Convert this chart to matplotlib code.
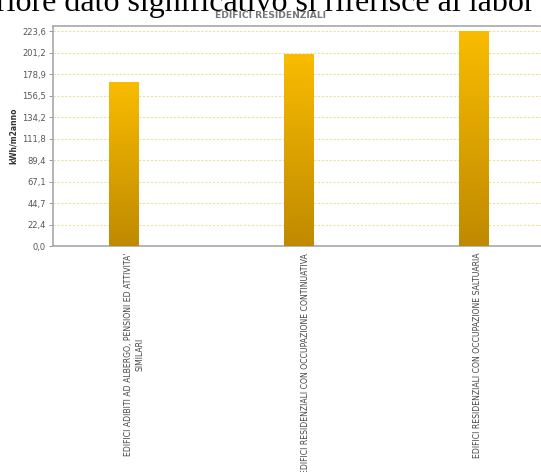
import numpy as np
import matplotlib
matplotlib.use("Agg")
import matplotlib.pyplot as plt
import matplotlib.transforms as mtransforms
from matplotlib.colors import LinearSegmentedColormap

# data
categories = [
    "EDIFICI ADIBITI AD ALBERGO, PENSIONI ED ATTIVITA'\nSIMILARI",
    "EDIFICI RESIDENZIALI CON OCCUPAZIONE CONTINUATIVA",
    "EDIFICI RESIDENZIALI CON OCCUPAZIONE SALTUARIA",
]
values = [171.0, 200.0, 223.6]
y_max = 223.6
tick_labels = ["0,0", "22,4", "44,7", "67,1", "89,4", "111,8",
               "134,2", "156,5", "178,9", "201,2", "223,6"]

fig = plt.figure(figsize=(5.41, 4.72), dpi=100)
fig.patch.set_facecolor("white")

# cut-off line of the page text above the chart
fig.text(-0.008, 0.977, "riore dato significativo si riferisce al labor",
         family="Liberation Serif", fontsize=23, color="black",
         ha="left", va="baseline")

fig.text(0.5, 0.967, "EDIFICI RESIDENZIALI", fontsize=6.6, color="#777777",
         fontweight="bold", ha="center", va="center")

ax = fig.add_axes([0.098, 0.4788, 0.9085, 0.466])
x = np.arange(len(categories))
bars = ax.bar(x, values, width=0.17, color="none", edgecolor="none", zorder=3)

# vertical gold gradient inside each bar
cmap = LinearSegmentedColormap.from_list("gold", ["#bf8a00", "#f9bc00"])
grad = np.linspace(0, 1, 256).reshape(-1, 1)
for b in bars:
    x0, y0 = b.get_x(), b.get_y()
    im = ax.imshow(grad, cmap=cmap, origin="lower", aspect="auto",
                   extent=(x0, x0 + b.get_width(), y0, y0 + b.get_height()),
                   zorder=3)
    im.set_clip_path(b)

ax.set_xlim(-0.406, 2.406)
ax.set_ylim(0, y_max * 1.0235)

yt = np.arange(len(tick_labels)) * y_max / 10
ax.set_yticks(yt)
ax.set_yticklabels(tick_labels, fontsize=6, color="#555555")
ax.yaxis.grid(True, linestyle=(0, (2, 1.5)), color="#ebe0a0", linewidth=0.8, zorder=0)
ax.set_axisbelow(True)
ax.tick_params(axis="y", length=3, width=0.6, color="#888888", pad=2)

ax.set_xticks(x)
ax.set_xticklabels(categories, rotation=90, fontsize=5.6, color="#444444",
                   ha="center", va="top", linespacing=1.4)
ax.tick_params(axis="x", length=0, pad=5)
# labels sit a little right of the bar centres in the original
for lbl, dx in zip(ax.get_xticklabels(), [10, 7, 4]):
    shift = mtransforms.ScaledTranslation(dx / 100, 0, fig.dpi_scale_trans)
    lbl.set_transform(lbl.get_transform() + shift)

ax.set_ylabel("kWh/m2anno", fontsize=5.5, fontweight="bold", color="#333333",
              labelpad=3)

for s in ["left", "top", "bottom", "right"]:
    ax.spines[s].set_color("#a8a8a8")
    ax.spines[s].set_linewidth(1.2)

fig.savefig("out.png", dpi=100, facecolor="white")
